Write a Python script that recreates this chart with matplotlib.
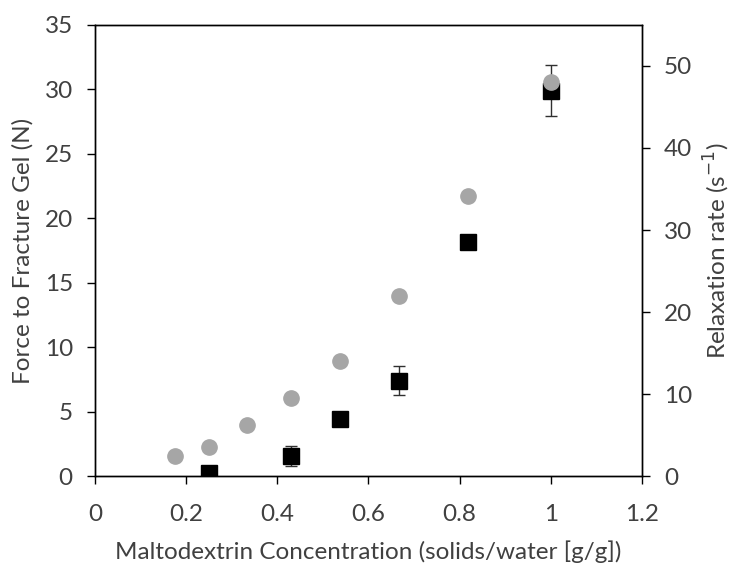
import numpy as np
import matplotlib
matplotlib.use("Agg")
import matplotlib.pyplot as plt

plt.rcParams['font.family'] = ['Lato', 'DejaVu Sans']

# force to fracture (left axis)
conc_force = [0.25, 0.43, 0.538, 0.667, 0.818, 1.0]
force = [0.22, 1.56, 4.45, 7.42, 18.15, 29.9]
force_err = [0.0, 0.8, 0.0, 1.1, 0.0, 1.95]

# relaxation rate (right axis)
conc_relax = [0.176, 0.25, 0.333, 0.43, 0.538, 0.667, 0.818, 1.0]
relax = [2.5, 3.6, 6.3, 9.5, 14.05, 22.0, 34.1, 48.0]

xticks = [0, 0.2, 0.4, 0.6, 0.8, 1, 1.2]
xticklabels = ['0', '0.2', '0.4', '0.6', '0.8', '1', '1.2']

text_col = '#404040'
fs = 17.5

fig = plt.figure(figsize=(7.31, 5.63), dpi=100)
ax = fig.add_axes([0.13, 0.154, 0.748, 0.802])

ax.errorbar(conc_force, force, yerr=force_err, fmt='none', ecolor='#303030',
            elinewidth=1, capsize=4, capthick=1, zorder=2)
ax.plot(conc_force, force, 's', color='black', markersize=12, zorder=3)

ax.set_xlim(0, 1.2)
ax.set_ylim(0, 35)
ax.set_xticks(xticks)
ax.set_xticklabels(xticklabels)
ax.set_yticks(np.arange(0, 36, 5))

ax2 = ax.twinx()
ax2.plot(conc_relax, relax, 'o', color='#a6a6a6', markersize=11, zorder=3)
ax2.set_ylim(0, 55)
ax2.set_yticks(np.arange(0, 51, 10))

for a in (ax, ax2):
    for s in a.spines.values():
        s.set_color('black')
        s.set_linewidth(1)
    a.tick_params(direction='out', length=6, width=1, color='black',
                  labelsize=fs, labelcolor=text_col, pad=10)
ax.tick_params(axis='x', pad=14)

ax.set_xlabel('Maltodextrin Concentration (solids/water [g/g])', fontsize=fs,
              color=text_col, labelpad=11)
ax.set_ylabel('Force to Fracture Gel (N)', fontsize=fs, color=text_col, labelpad=8)
ax2.set_ylabel('Relaxation rate (s$^{-1}$)', fontsize=fs, color=text_col, labelpad=7)

fig.savefig('out.png', dpi=100, facecolor='white')
